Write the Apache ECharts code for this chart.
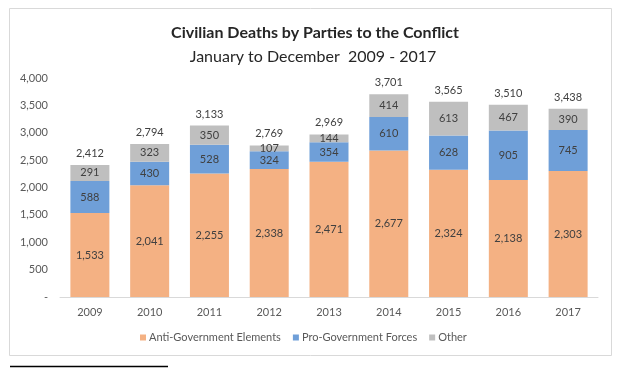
<!DOCTYPE html>
<html>
<head>
<meta charset="utf-8">
<script src="https://cdn.jsdelivr.net/npm/echarts@6/dist/echarts.min.js"></script>
<style>
html,body{margin:0;padding:0;background:#fff;}
#chart{width:626px;height:368px;}
</style>
</head>
<body>
<div id="chart"></div>
<script>
const categories = ['2009','2010','2011','2012','2013','2014','2015','2016','2017'];
const antiGov = [1533, 2041, 2255, 2338, 2471, 2677, 2324, 2138, 2303];
const proGov = [588, 430, 528, 324, 354, 610, 628, 905, 745];
const other = [291, 323, 350, 107, 144, 414, 613, 467, 390];
const totals = [2412, 2794, 3133, 2769, 2969, 3701, 3565, 3510, 3438];
const yTicks = [0, 500, 1000, 1500, 2000, 2500, 3000, 3500, 4000];

const FONT = 'Lato, "Open Sans", sans-serif';
const fmt = v => v === 0 ? '-' : v.toLocaleString('en-US');

const labelStyle = {
  show: true, position: 'inside', color: '#404040', fontSize: 11, fontFamily: FONT,
  formatter: p => fmt(p.value)
};

const chart = echarts.init(document.getElementById('chart'), null, {renderer: 'canvas'});
chart.setOption({
  animation: false,
  backgroundColor: '#fff',
  title: [
    {text: 'Civilian Deaths by Parties to the Conflict', left: 310, top: 20, textAlign: 'center',
     textStyle: {fontFamily: FONT, fontWeight: 'bold', fontSize: 16, color: '#262626'}},
    {text: 'January to December  2009 - 2017', left: 308, top: 44, textAlign: 'center',
     textStyle: {fontFamily: FONT, fontWeight: 'normal', fontSize: 16, color: '#262626'}}
  ],
  graphic: [
    {type: 'rect', shape: {x: 9.5, y: 8.5, width: 602, height: 347}, style: {fill: 'none', stroke: '#d9d9d9', lineWidth: 1}, silent: true},
    {type: 'line', shape: {x1: 10, y1: 366.5, x2: 168, y2: 366.5}, style: {stroke: '#000', lineWidth: 1.5}, silent: true}
  ],
  legend: {
    data: ['Anti-Government Elements', 'Pro-Government Forces', 'Other'],
    left: 135, top: 327, width: 480, itemWidth: 6, itemHeight: 6, itemGap: 12,
    textStyle: {fontFamily: FONT, fontSize: 11, color: '#595959', padding: [0, 0, 0, -2]},
    icon: 'rect', orient: 'horizontal', align: 'left',
    selectedMode: false
  },
  grid: {left: 60, right: 28, top: 78, bottom: 71},
  xAxis: {
    type: 'category', data: categories,
    axisLine: {lineStyle: {color: '#d9d9d9'}},
    axisTick: {show: false},
    axisLabel: {fontFamily: FONT, fontSize: 11, color: '#595959', margin: 10}
  },
  yAxis: {
    type: 'value', min: yTicks[0], max: yTicks[yTicks.length - 1], interval: 500,
    splitLine: {show: false},
    axisLine: {show: false}, axisTick: {show: false},
    axisLabel: {fontFamily: FONT, fontSize: 11, color: '#595959', margin: 12, formatter: fmt}
  },
  series: [
    {name: 'Anti-Government Elements', type: 'bar', stack: 'a', data: antiGov, barWidth: 39,
     itemStyle: {color: '#F4B183'}, label: labelStyle},
    {name: 'Pro-Government Forces', type: 'bar', stack: 'a', data: proGov,
     itemStyle: {color: '#6F9FD8'}, label: labelStyle},
    {name: 'Other', type: 'bar', stack: 'a', data: other,
     itemStyle: {color: '#BFBFBF'}, label: labelStyle},
    {name: 'Total', type: 'bar', stack: 'a', data: totals.map(() => 0),
     itemStyle: {color: 'transparent'},
     label: {show: true, position: 'top', distance: 6, color: '#404040', fontSize: 11, fontFamily: FONT,
       formatter: p => fmt(totals[p.dataIndex])}}
  ]
});
</script>
</body>
</html>
